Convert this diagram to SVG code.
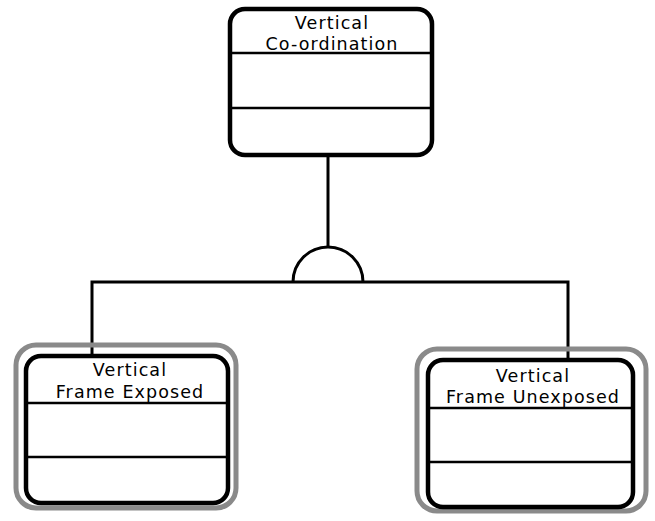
<svg xmlns="http://www.w3.org/2000/svg" width="655" height="521" viewBox="0 0 655 521">
  <style>
    .box { fill: #ffffff; stroke: #000000; stroke-width: 4.5; }
    .frame { fill: none; stroke: #8a8a8a; stroke-width: 5; }
    .div { stroke: #000000; stroke-width: 2.5; }
    .conn { fill: none; stroke: #000000; stroke-width: 3; }
    .label { font-family: "DejaVu Sans", "Liberation Sans", sans-serif; font-size: 17.5px; fill: #000000; text-anchor: middle; letter-spacing: 1.1px; }
  </style>
  <rect width="655" height="521" fill="#ffffff"/>

  <!-- connectors -->
  <g id="connectors">
    <line class="conn" x1="328" y1="155" x2="328" y2="247"/>
    <path class="conn" d="M293 282 A35 35 0 0 1 363 282"/>
    <polyline class="conn" points="92,358 92,282 568,282 568,362"/>
  </g>

  <!-- parent node -->
  <g id="vertical-coordination">
    <rect class="box" x="230" y="9" width="202" height="146" rx="15"/>
    <line class="div" x1="230" y1="53" x2="432" y2="53"/>
    <line class="div" x1="230" y1="108" x2="432" y2="108"/>
    <text class="label" x="332" y="29">Vertical</text>
    <text class="label" x="332" y="49.5">Co-ordination</text>
  </g>

  <!-- child node: exposed frame -->
  <g id="vertical-frame-exposed">
    <rect class="frame" x="16" y="345" width="220" height="163" rx="20"/>
    <rect class="box" x="26" y="356" width="202" height="147" rx="15"/>
    <line class="div" x1="26" y1="403" x2="228" y2="403"/>
    <line class="div" x1="26" y1="457" x2="228" y2="457"/>
    <text class="label" x="130" y="376">Vertical</text>
    <text class="label" x="130" y="398">Frame Exposed</text>
  </g>

  <!-- child node: unexposed frame -->
  <g id="vertical-frame-unexposed">
    <rect class="frame" x="417" y="349" width="229" height="162" rx="20"/>
    <rect class="box" x="428" y="360" width="205" height="147" rx="15"/>
    <line class="div" x1="428" y1="408" x2="633" y2="408"/>
    <line class="div" x1="428" y1="462" x2="633" y2="462"/>
    <text class="label" x="533" y="382">Vertical</text>
    <text class="label" x="533" y="403">Frame Unexposed</text>
  </g>
</svg>
